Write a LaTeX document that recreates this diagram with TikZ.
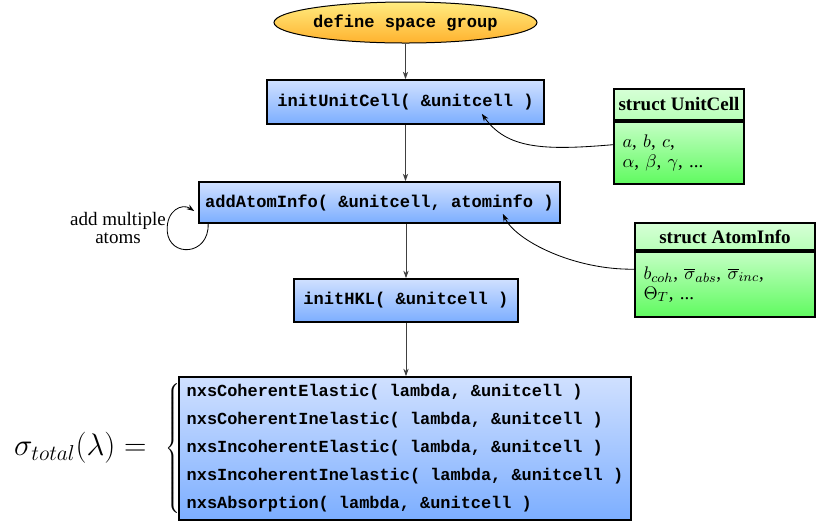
\documentclass[tikz,border=0pt]{standalone}
\usepackage{graphicx}
\usepackage{fontspec}
\setmainfont{Liberation Serif}
\setmonofont{Liberation Mono}
\usetikzlibrary{arrows.meta,shapes.geometric}
\definecolor{bluetop}{RGB}{208,224,255}
\definecolor{bluebot}{RGB}{124,174,255}
\definecolor{elltop}{RGB}{255,236,128}
\definecolor{ellbot}{RGB}{255,178,46}
\definecolor{grhtop}{RGB}{214,255,214}
\definecolor{grhbot}{RGB}{184,255,184}
\definecolor{grbtop}{RGB}{196,255,196}
\definecolor{grbbot}{RGB}{96,250,96}
\newcommand\monofnt{\fontsize{10.25}{12}\selectfont\ttfamily\bfseries}
\newcommand\serfnt{\fontsize{11.4}{12}\selectfont}
\begin{document}
\begin{tikzpicture}[x=0.6pt,y=-0.6pt,
  func/.style={draw=black, line width=1pt, rectangle, top color=bluetop, bottom color=bluebot, inner sep=0pt, font=\monofnt},
  startnode/.style={draw=black, line width=0.6pt, ellipse, top color=elltop, bottom color=ellbot, inner sep=0pt, font=\monofnt},
  structhead/.style={draw=black, line width=1pt, rectangle, top color=grhtop, bottom color=grhbot, inner sep=0pt, font=\serfnt\bfseries},
  structbody/.style={draw=black, line width=1pt, rectangle, top color=grbtop, bottom color=grbbot, inner xsep=5.1pt, inner ysep=0pt, align=left, font=\serfnt},
  flow/.style={-{Stealth[length=4.5pt,width=3.2pt]}, line width=0.6pt, black!75},
  link/.style={-{Stealth[length=4.5pt,width=3.2pt]}, line width=0.5pt, black}]
\useasboundingbox (0,0) rectangle (818,521);

\node[startnode, minimum width=157.8pt, minimum height=24.6pt] (space) at (405.5,22.5) {define space group};
\node[func, minimum width=166.2pt, minimum height=26.4pt] (unit) at (405.5,102) {initUnitCell( \&unitcell )};
\node[func, minimum width=216.6pt, minimum height=24.6pt] (add) at (379.5,202.5) {addAtomInfo( \&unitcell, atominfo )};
\node[func, minimum width=134.4pt, minimum height=25.8pt] (hkl) at (406,300.5) {initHKL( \&unitcell )};
\node[func, minimum width=271.2pt, minimum height=85.8pt, align=left,
      font=\monofnt\fontsize{10.15}{16.8}\selectfont] (xs) at (405,448.5)
  {nxsCoherentElastic( lambda, \&unitcell )\\
   nxsCoherentInelastic( lambda, \&unitcell )\\
   nxsIncoherentElastic( lambda, \&unitcell )\\
   nxsIncoherentInelastic( lambda, \&unitcell )\\
   nxsAbsorption( lambda, \&unitcell )};

\node[inner sep=0pt, anchor=east, font=\fontsize{18}{20}\selectfont] (total) at ([xshift=1.2pt]xs.west)
  {\nulldelimiterspace=0pt\scalebox{1.08}{$\sigma_{total}(\lambda) =$}\hspace{11.1pt}$\left\{\vcenter{\hbox{\rule{0pt}{80pt}}}\right.$};

\node[structhead, minimum width=78pt, minimum height=18.6pt] (uch) at (679,104.5) {struct UnitCell};
\node[structbody, minimum width=78pt, minimum height=37.2pt, text width=67.8pt, anchor=north] (ucb) at (uch.south)
  {$a$, $b$, $c$,\\ $\alpha$, $\beta$, $\gamma$, ...};

\node[structhead, minimum width=108pt, minimum height=16.2pt] (aih) at (725,236.5) {struct AtomInfo};
\node[structbody, minimum width=108pt, minimum height=39pt, text width=97.8pt, anchor=north] (aib) at (aih.south)
  {$b_{coh}$, $\overline{\sigma}_{abs}$, $\overline{\sigma}_{inc}$,\\ $\Theta_T$, ...};

\node[align=center, inner sep=0pt, font=\fontsize{11.4}{11.2}\selectfont] (multi) at (118,228) {add multiple\\atoms};

\draw[flow] (space.south) -- (unit.north);
\draw[flow] (unit.south) -- (unit.south |- add.north);
\draw[flow] (hkl.north |- add.south) -- (hkl.north);
\draw[flow] (hkl.south) -- (hkl.south |- xs.north);

\draw[link] ([yshift=4.8pt]ucb.west) .. controls +(-70,6) and +(25,35) .. ([xshift=-37.8pt,yshift=6.6pt]unit.south east);
\draw[link] ([yshift=9pt]aib.west) .. controls +(-60,1) and +(13,27) .. ([xshift=-34.8pt,yshift=6pt]add.south east);

\coordinate (loopstart) at ([xshift=6pt]add.south west);
\draw[link] (loopstart) .. controls +(1,32) and +(2,27) .. ([xshift=-18.6pt,yshift=-17.1pt]add.west)
  .. controls +(-1,-21) and +(-12,-8) .. ([xshift=-2.4pt,yshift=-5.1pt]add.west);
\end{tikzpicture}
\end{document}
